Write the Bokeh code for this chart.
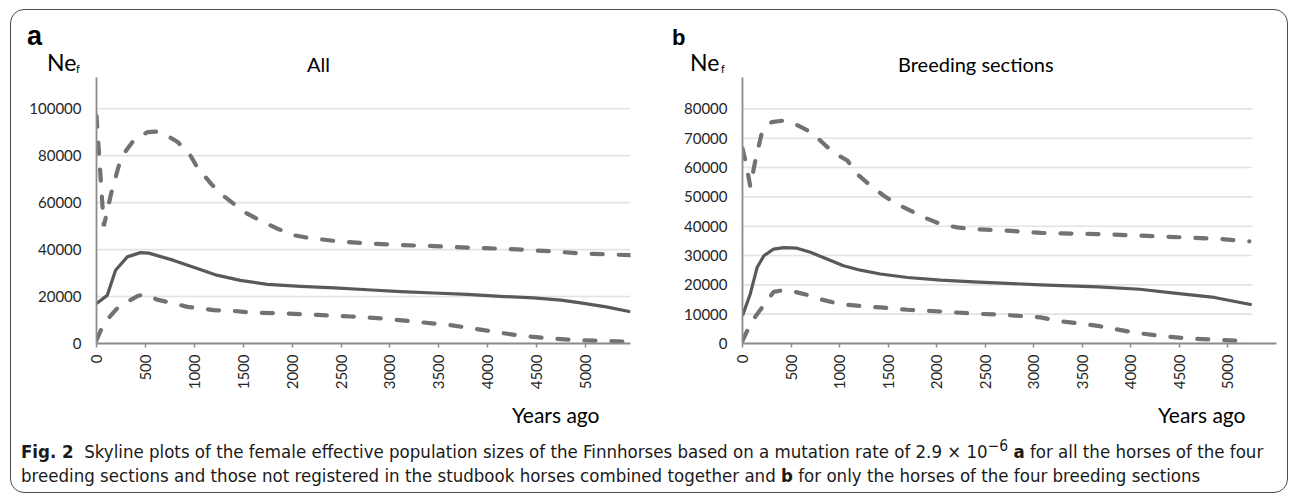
import math
from bokeh.plotting import figure
from bokeh.layouts import column, row
from bokeh.models import FixedTicker, Div, Range1d, AllLabels
from bokeh.embed import file_html
from bokeh.resources import INLINE

# ---------------- data ----------------
# Panel a: All
a_med_x = [0, 110, 195, 315, 450, 535, 790, 1030, 1230, 1470, 1745, 2090, 2430, 2770, 3110, 3450, 3790, 4130, 4470, 4750, 4950, 5210, 5460]
a_med_y = [17000, 20500, 31200, 36900, 38700, 38500, 35400, 31900, 29100, 26900, 25200, 24300, 23700, 22900, 22100, 21500, 20900, 20100, 19400, 18500, 17300, 15600, 13500]
a_up_x = [0, 35, 75, 150, 230, 300, 380, 520, 620, 720, 830, 960, 1030, 1170, 1270, 1400, 1540, 1710, 1850, 2020, 2150, 2430, 2770, 3110, 3450, 3790, 4130, 4470, 4750, 4950, 5210, 5460]
a_up_y = [97000, 75000, 50000, 64000, 76000, 82000, 86500, 90000, 90300, 88600, 85800, 80100, 75100, 68100, 63800, 59600, 55300, 51700, 48900, 46100, 45100, 43700, 42600, 41900, 41500, 40850, 40400, 39700, 39000, 38300, 38000, 37600]
a_lo_x = [0, 75, 210, 315, 415, 485, 620, 825, 930, 1200, 1400, 1575, 1915, 2260, 2600, 2940, 3280, 3620, 3960, 4300, 4640, 4950, 5380]
a_lo_y = [1400, 8500, 14900, 17700, 20100, 21000, 18700, 16700, 15600, 14200, 13900, 13200, 12800, 12200, 11500, 10600, 9200, 7800, 5700, 3500, 2100, 1400, 850]

# Panel b: Breeding sections
b_med_x = [0, 80, 150, 220, 320, 425, 560, 700, 870, 1040, 1215, 1420, 1700, 2040, 2380, 2730, 3070, 3660, 4090, 4520, 4860, 5245]
b_med_y = [9500, 16900, 25900, 29900, 32200, 32700, 32500, 31100, 28800, 26500, 25000, 23700, 22500, 21600, 21000, 20500, 20000, 19300, 18500, 16900, 15700, 13200]
b_up_x = [0, 40, 80, 130, 200, 300, 420, 560, 720, 820, 940, 1080, 1180, 1320, 1455, 1560, 1730, 1870, 2040, 2210, 2380, 2730, 3070, 3660, 4090, 4520, 4940, 5220]
b_up_y = [66500, 61000, 53500, 62000, 72000, 75500, 76000, 74500, 71800, 68600, 65000, 62400, 57800, 53800, 50400, 48100, 45300, 43000, 40700, 39600, 39000, 38500, 37700, 37300, 36800, 36200, 35600, 34800]
b_lo_x = [0, 80, 150, 255, 320, 425, 530, 700, 800, 1010, 1180, 1420, 1700, 2040, 2380, 2730, 3070, 3230, 3660, 4020, 4300, 4600, 4940, 5220]
b_lo_y = [900, 6600, 10000, 14600, 17600, 18200, 17700, 16300, 15100, 13400, 12900, 12300, 11500, 10900, 10200, 9700, 8900, 7800, 6000, 3800, 2600, 1700, 1200, 700]

x_ticks = [0, 500, 1000, 1500, 2000, 2500, 3000, 3500, 4000, 4500, 5000]
a_y_ticks = [0, 20000, 40000, 60000, 80000, 100000]
b_y_ticks = [0, 10000, 20000, 30000, 40000, 50000, 60000, 70000, 80000]

panel_letters = ["a", "b"]
panel_titles = ["All", "Breeding sections"]
y_label = "Ne"
y_label_sub = "f"
x_label = "Years ago"

FONT = "Lato"
SOLID = "#595959"
DASH = "#727272"
GRID = "#e3e3e3"
AXIS = "#8c8c8c"


def svg_text(x, y, txt, size, family=FONT, weight="normal"):
    return (f'<text x="{x}" y="{y}" style="font-family:{family};font-size:{size}px;'
            f'font-weight:{weight};fill:#000">{txt}</text>')


def header_div(width, letter, letter_x, letter_size, ne_x, ne_y, f_x, f_y,
               title, title_x, title_y):
    svg = (
        f'<svg xmlns="http://www.w3.org/2000/svg" width="{width}" height="67" '
        f'style="display:block">'
        + svg_text(letter_x, 35, letter, letter_size, "'Liberation Sans', Arial, sans-serif", "bold")
        + svg_text(ne_x, ne_y, y_label, 23)
        + svg_text(f_x, f_y, y_label_sub, 11)
        + svg_text(title_x, title_y, title, 20)
        + '</svg>')
    return Div(text=svg, width=width, height=67, margin=(0, 0, 0, 0))


def footer_div(width, x):
    svg = (
        f'<svg xmlns="http://www.w3.org/2000/svg" width="{width}" height="32" '
        f'style="display:block">'
        + svg_text(x, 23, x_label, 21)
        + '</svg>')
    return Div(text=svg, width=width, height=32, margin=(0, 0, 0, 0))


def make_panel(width, left, right, x_end, y_end, y_ticks, grid_end,
               mx, my, ux, uy, lx, ly):
    p = figure(width=width, height=323, x_range=Range1d(0, x_end),
               y_range=Range1d(0, y_end), output_backend="svg",
               toolbar_location=None, min_border_left=left,
               min_border_right=right, min_border_top=0,
               min_border_bottom=57, margin=(0, 0, 0, 0))
    p.outline_line_color = None
    p.xgrid.visible = False
    p.ygrid.visible = False
    p.background_fill_color = "white"
    p.border_fill_color = "white"

    # horizontal gridlines at the y ticks
    p.segment(x0=[0] * len(y_ticks), x1=[grid_end] * len(y_ticks),
              y0=y_ticks, y1=y_ticks, line_color=GRID, line_width=1.6)

    p.line(ux, uy, line_color=DASH, line_width=4.2, line_dash="11 16",
           line_cap="round")
    p.line(lx, ly, line_color=DASH, line_width=4.2, line_dash="11 16",
           line_cap="round")
    p.line(mx, my, line_color=SOLID, line_width=3.2, line_join="round")

    xa = p.xaxis[0]
    xa.ticker = FixedTicker(ticks=x_ticks)
    xa.major_label_policy = AllLabels()
    xa.major_label_orientation = math.pi / 2
    xa.minor_tick_line_color = None
    xa.major_tick_in = 0
    xa.major_tick_out = 4
    xa.major_tick_line_color = AXIS
    xa.major_tick_line_width = 1.5
    xa.axis_line_color = AXIS
    xa.axis_line_width = 1.8
    xa.major_label_text_font = FONT
    xa.major_label_text_font_size = "15px"
    xa.major_label_text_color = "#262626"
    xa.major_label_standoff = 7

    ya = p.yaxis[0]
    ya.ticker = FixedTicker(ticks=y_ticks)
    ya.minor_tick_line_color = None
    ya.major_tick_in = 0
    ya.major_tick_out = 0
    ya.axis_line_color = AXIS
    ya.axis_line_width = 1.8
    ya.major_label_text_font = FONT
    ya.major_label_text_font_size = "15px"
    ya.major_label_text_color = "#262626"
    ya.major_label_standoff = 15
    ya.formatter.use_scientific = False
    return p


pa = make_panel(640, 85, 21, 5460, 113300, a_y_ticks, 5460,
                a_med_x, a_med_y, a_up_x, a_up_y, a_lo_x, a_lo_y)
pb = make_panel(636, 91, 11, 5500, 90700, b_y_ticks, 5250,
                b_med_x, b_med_y, b_up_x, b_up_y, b_lo_x, b_lo_y)

ha = header_div(640, panel_letters[0], 16, 27, 36, 61, 65, 63, panel_titles[0], 296, 62)
hb = header_div(636, panel_letters[1], 21, 22, 39, 61, 70, 63, panel_titles[1], 247, 62)
fa = footer_div(640, 501)
fb = footer_div(636, 507)

col_a = column(ha, pa, fa, margin=(0, 0, 0, 0), spacing=0)
col_b = column(hb, pb, fb, margin=(0, 0, 0, 0), spacing=0)

caption_html = ('<b>Fig. 2</b>&nbsp; Skyline plots of the female effective population sizes of the '
                'Finnhorses based on a mutation rate of 2.9 &times; 10<sup>&minus;6</sup> <b>a</b> for all '
                'the horses of the four<br>breeding sections and those not registered in the studbook '
                'horses combined together and <b>b</b> for only the horses of the four breeding sections')
caption = Div(text=caption_html, width=1264, height=60, margin=(0, 0, 0, 0),
              styles={"font-family": "'Liberation Sans Narrow', 'DejaVu Sans Condensed', sans-serif",
                      "font-size": "18.5px", "line-height": "24px", "color": "#1a1a1a",
                      "padding-left": "10px", "padding-top": "2px"})

layout = column(row(col_a, col_b, spacing=0, margin=(0, 0, 0, 0)), caption,
                spacing=0, margin=(9, 0, 0, 10),
                styles={"border": "1.5px solid #4d4d4d", "border-radius": "14px"})

open("out.html", "w").write(file_html(layout, INLINE))
